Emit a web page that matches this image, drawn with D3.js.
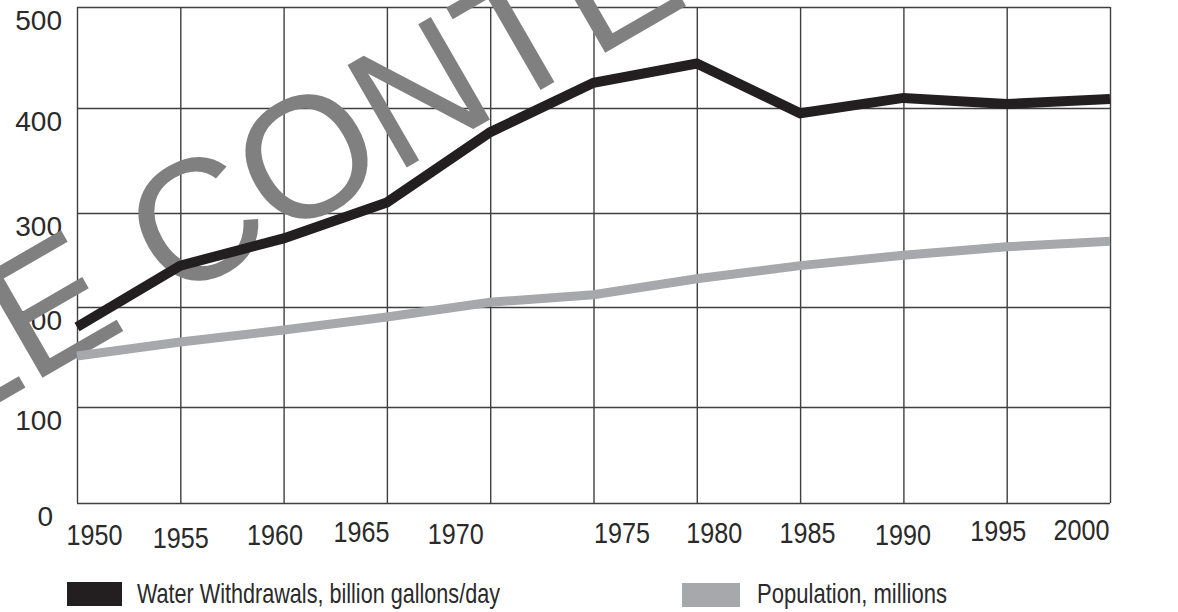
<!DOCTYPE html>
<html>
<head>
<meta charset="utf-8">
<script src="https://cdn.jsdelivr.net/npm/d3@7"></script>
<style>
  html, body { margin: 0; padding: 0; background: #ffffff; }
  svg { display: block; }
</style>
</head>
<body>
<svg id="chart" width="1178" height="612"></svg>
<script>
// ---- data ----
const years = [1950, 1955, 1960, 1965, 1970, 1975, 1980, 1985, 1990, 1995, 2000];
const waterWithdrawals = [180, 244, 273, 310, 377, 425, 444, 395, 410, 404, 409];
const population = [151, 165, 177, 190, 205, 213, 230, 244, 255, 264, 270];
const yTicks = [0, 100, 200, 300, 400, 500];
const xTickLabels = ["1950", "1955", "1960", "1965", "1970", "1975", "1980", "1985", "1990", "1995", "2000"];
const seriesNames = ["Water Withdrawals, billion gallons/day", "Population, millions"];

// ---- layout / style ----
const W = 1178, H = 612;
const plot = { left: 77, right: 1110, top: 7, bottom: 503 };
const ink = "#231f20", grey = "#a7a8ab", gridColor = "#3f3f3f";
// hand-set label placement of the printed original
const xLabelDx = [17, 0, -9, -26, -35, 28, 17, 7, -1, -9, -29];
const xLabelDy = [42, 45, 42, 39, 41, 40, 40, 40, 42, 38, 37];
const yLabelDx = [-9, 0, 0, 0, 0, 0];

const svg = d3.select("#chart");

const x = d3.scaleLinear().domain([1950, 2000]).range([plot.left, plot.right]);
// printed grid is slightly uneven: polylinear scale through the printed gridlines
const y = d3.scaleLinear().domain(yTicks).range([503, 407, 307, 213, 108, 7]);

// ---- grid via axes ----
const gGridY = svg.append("g")
  .attr("transform", `translate(${plot.left},0)`)
  .call(d3.axisLeft(y).tickValues(yTicks).tickSize(-(plot.right - plot.left)).tickFormat(""));
gGridY.select(".domain").remove();
gGridY.selectAll("line").attr("stroke", gridColor).attr("stroke-width", 1.4);

const gGridX = svg.append("g")
  .attr("transform", `translate(0,${plot.bottom})`)
  .call(d3.axisBottom(x).tickValues(years).tickSize(-(plot.bottom - plot.top)).tickFormat(""));
gGridX.select(".domain").remove();
gGridX.selectAll("line").attr("stroke", gridColor).attr("stroke-width", 1.4);

// ---- y labels ----
const gY = svg.append("g")
  .attr("transform", `translate(${plot.left},0)`)
  .call(d3.axisLeft(y).tickValues(yTicks).tickSize(0).tickPadding(15).tickFormat(d3.format("d")));
gY.select(".domain").remove();
gY.selectAll("text")
  .attr("dy", 22)
  .attr("dx", (d, i) => yLabelDx[i])
  .attr("fill", "#2a2a2a")
  .style("font-family", "'Liberation Sans', Arial, Helvetica, sans-serif")
  .style("font-size", "28px");

// ---- x labels ----
const gX = svg.append("g")
  .attr("transform", `translate(0,${plot.bottom})`)
  .call(d3.axisBottom(x).tickValues(years).tickSize(0).tickPadding(0).tickFormat((d, i) => xTickLabels[i]));
gX.select(".domain").remove();
gX.selectAll("text")
  .attr("y", 0)
  .attr("dy", (d, i) => xLabelDy[i])
  .attr("dx", (d, i) => xLabelDx[i])
  .attr("fill", "#2a2a2a")
  .attr("textLength", 56)
  .attr("lengthAdjust", "spacingAndGlyphs")
  .style("font-family", "'Liberation Sans Narrow', 'Arial Narrow', 'Liberation Sans', sans-serif")
  .style("font-size", "30px");

// ---- watermark ----
const fsW = 172;
const wm = svg.append("g").attr("transform", "translate(194,219) rotate(-30)");
const wmText = wm.append("text")
  .attr("fill", "#808080")
  .style("font-family", "'Liberation Sans', Arial, Helvetica, sans-serif")
  .style("font-size", fsW + "px")
  .attr("y", 0.358 * fsW)
  .text("SAMPLE CONTENT");
const pre = wmText.node().getSubStringLength(0, 7);
const cW = wmText.node().getSubStringLength(7, 1);
wmText.attr("x", -(pre + cW / 2));

// ---- lines ----
const line = d3.line().x((d, i) => x(years[i])).y(d => y(d));
svg.append("path").datum(population)
  .attr("d", line).attr("fill", "none")
  .attr("stroke", grey).attr("stroke-width", 9).attr("stroke-linejoin", "miter");
svg.append("path").datum(waterWithdrawals)
  .attr("d", line).attr("fill", "none")
  .attr("stroke", ink).attr("stroke-width", 10).attr("stroke-linejoin", "miter");

// ---- legend ----
const legend = [
  { name: seriesNames[0], color: ink, rx: 67, rw: 55, tx: 137, tw: 363, ry: 582 },
  { name: seriesNames[1], color: grey, rx: 682, rw: 58, tx: 757, tw: 190, ry: 583 }
];
const lg = svg.append("g");
lg.selectAll("rect").data(legend).join("rect")
  .attr("x", d => d.rx).attr("y", d => d.ry).attr("width", d => d.rw).attr("height", 24)
  .attr("fill", d => d.color);
lg.selectAll("text").data(legend).join("text")
  .attr("x", d => d.tx).attr("y", 603)
  .attr("textLength", d => d.tw).attr("lengthAdjust", "spacingAndGlyphs")
  .attr("fill", "#2a2a2a")
  .style("font-family", "'Liberation Sans Narrow', 'Arial Narrow', 'Liberation Sans', sans-serif")
  .style("font-size", "28px")
  .text(d => d.name);
</script>
</body>
</html>
